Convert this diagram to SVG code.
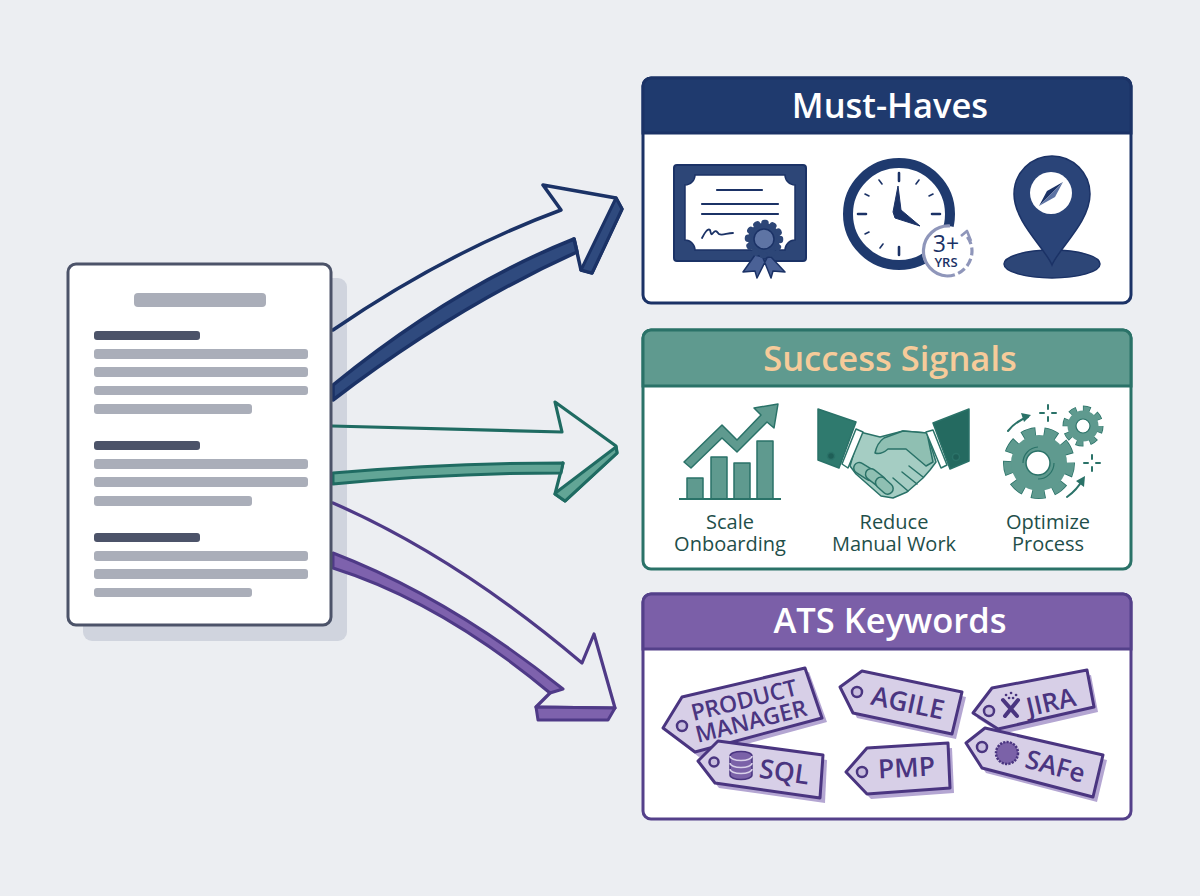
<svg xmlns="http://www.w3.org/2000/svg" width="1200" height="896" viewBox="0 0 1200 896">
<style>
text{font-family:"Open Sans","Noto Sans","Liberation Sans",sans-serif}
.title{font-size:34.5px;font-weight:600;text-anchor:middle;fill:#fff}
.lbl{font-size:20px;text-anchor:middle;fill:#1f4f4a}
.bar{fill:#aaaeb9}
.hd{fill:#4c5369}
.navy{stroke:#1b3266;stroke-linejoin:round;stroke-linecap:round}
.teal{stroke:#1f6b62;stroke-linejoin:round;stroke-linecap:round}
.purp{stroke:#4f3a87;stroke-linejoin:round;stroke-linecap:round}
.tag{fill:#d7cfe7;stroke:#4a3580;stroke-width:3;stroke-linejoin:round}
.tagsh{fill:#b4a6d2}
.hole{fill:#c9bedf;stroke:#4a3580;stroke-width:2.5}
.tt{font-weight:600;text-anchor:middle;fill:#4a3580}
</style>
<rect width="1200" height="896" fill="#ecEEf2"/>
<rect id="doc-shadow" x="83" y="278" width="264" height="363" rx="9" fill="#d0d4de"/>
<g id="connectors" fill="none">
<g id="arrow-musthaves">
<path class="navy" stroke-width="3.5" d="M333 330Q447 252 561 210L543 185L616 198L622 209L592 273L581 270L574 239"/>
<path class="navy" stroke-width="3" fill="#2f4a7e" d="M616 198L622 209L592 273L581 270Z"/>
<path class="navy" stroke-width="3.5" fill="#2f4a7e" d="M333 385Q453 287 574 239L577 252Q455 307 333 400Z"/>
</g>
<g id="arrow-success">
<path class="teal" stroke-width="3.2" d="M332 426L562 432L555 402L616 446L617 453L565 501L555 494L563 463"/>
<path class="teal" stroke-width="3" fill="#62a596" d="M616 447L617 453L565 501L555 494L558 491Z"/>
<path class="teal" stroke-width="3" fill="#62a596" d="M333 473Q450 463 563 463L561 473Q450 473 333 484Z"/>
</g>
<g id="arrow-ats">
<path class="purp" stroke-width="3.2" d="M333 503Q457 557 582 663L594 634L615 708L536 707L550 693"/>
<path class="purp" stroke-width="3" fill="#7e62ad" d="M536 707L615 708L608 720L538 720Z"/>
<path class="purp" stroke-width="3" fill="#7e62ad" d="M333 553Q448 597 563 689L550 693Q441 602 333 568Z"/>
</g>
</g>
<g id="document">
<rect x="68" y="264" width="263" height="361" rx="8" fill="#fff" stroke="#4c5369" stroke-width="3"/>
<rect class="bar" x="134" y="293" width="132" height="14" rx="4"/>
<rect class="hd" x="94" y="331" width="106" height="9" rx="3"/>
<rect class="bar" x="94" y="349" width="214" height="10" rx="3"/>
<rect class="bar" x="94" y="367" width="214" height="10" rx="3"/>
<rect class="bar" x="94" y="386" width="214" height="9" rx="3"/>
<rect class="bar" x="94" y="404" width="158" height="10" rx="3"/>
<rect class="hd" x="94" y="441" width="106" height="9" rx="3"/>
<rect class="bar" x="94" y="459" width="214" height="10" rx="3"/>
<rect class="bar" x="94" y="477" width="214" height="10" rx="3"/>
<rect class="bar" x="94" y="496" width="158" height="10" rx="3"/>
<rect class="hd" x="94" y="533" width="106" height="9" rx="3"/>
<rect class="bar" x="94" y="551" width="214" height="10" rx="3"/>
<rect class="bar" x="94" y="569" width="214" height="10" rx="3"/>
<rect class="bar" x="94" y="588" width="158" height="9" rx="3"/>
</g>
<g id="card-musthaves">
<rect x="643" y="78" width="488" height="225" rx="8" fill="#fff" stroke="#1b3266" stroke-width="3"/>
<path d="M643 133V86a8 8 0 0 1 8-8H1123a8 8 0 0 1 8 8V133Z" fill="#1f3a6e" stroke="#1b3266" stroke-width="3"/>
<text class="title" x="890" y="118">Must-Haves</text>
<g id="icon-certificate">
<rect x="674" y="165" width="132" height="96" rx="3" fill="#2d4677" stroke="#1b3266" stroke-width="2"/>
<path d="M695 175H785a10 10 0 0 0 10 10V240a10 10 0 0 0-10 10H695a10 10 0 0 0-10-10V185a10 10 0 0 0 10-10Z" fill="#fff" stroke="#1b3266" stroke-width="1.5"/>
<path d="M717 190H762M702 204H778M702 214H778" fill="none" stroke="#1b3266" stroke-width="2.2" stroke-linecap="round"/>
<path d="M702 238C705 232 708 228 710 230C711 233 711 236 713 233C716 229 717 232 719 234C722 236 727 233 733 233" fill="none" stroke="#1b3266" stroke-width="1.8" stroke-linecap="round"/>
<path d="M755 255L743 272L755 271L757 278L767 258ZM771 257L785 272L773 271L771 278L763 258Z" fill="#4a6196" stroke="#1b3266" stroke-width="1.5" stroke-linejoin="round"/>
<circle cx="764" cy="239" r="16" fill="#2d4677" stroke="#2d4677" stroke-width="6.5" stroke-dasharray="1 7.38" stroke-linecap="round"/>
<circle cx="764" cy="239" r="10" fill="#5e74a4" stroke="#1b3266" stroke-width="1.5"/>
</g>
<g id="icon-clock">
<circle cx="899" cy="214" r="51" fill="#fff" stroke="#1f3a6e" stroke-width="10"/>
<path d="M899 173V181M899 247V255M858 214H866M932 214H940" stroke="#1b3266" stroke-width="2.6" stroke-linecap="round"/>
<path d="M879 180L882 184M919 180L916 184M865 194L869 196M933 194L929 196M865 234L869 232M880 248L883 244" stroke="#1b3266" stroke-width="1.6" stroke-linecap="round"/>
<path d="M898 186L901 210L920 226L895 218L893 212Z" fill="#1b3266" stroke="#1b3266" stroke-width="1" stroke-linejoin="round"/>
<circle cx="947" cy="251" r="25" fill="#fff"/>
<path d="M950 226A25 25 0 0 0 947 276" fill="none" stroke="#8f96ba" stroke-width="3.2"/>
<path d="M947 276A25 25 0 0 0 972 251A25 25 0 0 0 965 234" fill="none" stroke="#8f96ba" stroke-width="3.2" stroke-dasharray="8 3.5"/>
<path d="M961 236L967 231L971 241" fill="none" stroke="#8f96ba" stroke-width="2.6" stroke-linejoin="round"/>
<text x="946" y="252" font-size="23" font-weight="500" text-anchor="middle" fill="#1b3266">3+</text>
<text x="946" y="267" font-size="13" font-weight="600" text-anchor="middle" fill="#1b3266">YRS</text>
</g>
<g id="icon-pin">
<ellipse cx="1052" cy="264" rx="48" ry="14" fill="#2d4677" stroke="#1b3266" stroke-width="1.5"/>
<path d="M1052 265C1045 248 1014 222 1014 194A38 38 0 0 1 1090 194C1090 222 1059 248 1052 265Z" fill="#2a4478" stroke="#1b3266" stroke-width="1.5"/>
<circle cx="1051" cy="193" r="21" fill="#fff"/>
<path d="M1063 182L1039 206L1047 191Z" fill="#1b3266"/>
<path d="M1063 182L1039 206L1055 197Z" fill="#5e74a4"/>
</g>
</g>
<g id="card-success">
<rect x="643" y="330" width="488" height="239" rx="8" fill="#fff" stroke="#2a7268" stroke-width="3"/>
<path d="M643 386V338a8 8 0 0 1 8-8H1123a8 8 0 0 1 8 8V386Z" fill="#5f9a8f" stroke="#2a7268" stroke-width="3"/>
<text class="title" x="890" y="371" style="fill:#f6cb9a">Success Signals</text>
<g id="icon-chart" fill="#5f9a8f" stroke="#2a7268" stroke-width="1.5" stroke-linejoin="round">
<rect x="687" y="478" width="16" height="21"/>
<rect x="711" y="457" width="16" height="42"/>
<rect x="734" y="463" width="16" height="36"/>
<rect x="757" y="441" width="16" height="58"/>
<path d="M679 499H781" stroke-width="2"/>
<path d="M684 462L722 425L737 440L761 415L754 408L778 404L774 428L767 422L737 452L722 438L691 468Z"/>
</g>
<g id="icon-handshake" stroke="#2a7268" stroke-width="1.5" stroke-linejoin="round" stroke-linecap="round">
<path d="M860 432L880 437L903 431L927 433L936 462L930 470L923 478L907 492L893 498L881 496L856 474L850 466Z" fill="#a5cdc3"/>
<path d="M875 453Q877 443 884 438L903 431L927 433L933 462L926 466L906 449L888 449Q881 455 875 453Z" fill="#8fbfb2"/>
<rect x="853" y="466" width="24" height="11" rx="5.5" fill="#8fbfb2" transform="rotate(32 865 471)"/>
<rect x="864" y="472" width="23" height="11" rx="5.5" fill="#8fbfb2" transform="rotate(38 875 478)"/>
<rect x="874" y="480" width="20" height="11" rx="5.5" fill="#8fbfb2" transform="rotate(42 884 486)"/>
<path d="M893 478L908 491M902 472L917 484M909 466L923 477" fill="none"/>
<path d="M818 409L856 422L839 468L818 460Z" fill="#2f7a6e"/>
<path d="M969 409L933 423L950 469L969 461Z" fill="#246a60"/>
<path d="M856 429L863 432L848 468L842 464Z" fill="#fff"/>
<path d="M926 432L933 430L947 465L941 468Z" fill="#fff"/>
<circle cx="831" cy="456" r="3.5" fill="#1f5f57"/>
<circle cx="956" cy="457" r="3.5" fill="#1f5f57"/>
</g>
<g id="icon-gears">
<circle cx="1039" cy="463" r="31" fill="none" stroke="#2a7268" stroke-width="10" stroke-dasharray="13.5 8.14" stroke-dashoffset=".75"/>
<circle cx="1039" cy="463" r="31" fill="none" stroke="#5f9a8f" stroke-width="8.5" stroke-dasharray="12 9.64"/>
<circle cx="1039" cy="463" r="28" fill="#5f9a8f"/>
<circle cx="1038" cy="463" r="12" fill="#fff" stroke="#2a7268" stroke-width="1.5"/>
<path d="M1023 463A16 16 0 0 1 1038 447M1054 463A16 16 0 0 1 1038 479" fill="none" stroke="#2a7268" stroke-width="1.2"/>
<circle cx="1083" cy="426" r="17" fill="none" stroke="#2a7268" stroke-width="7" stroke-dasharray="7.2 6.15" stroke-dashoffset=".6"/>
<circle cx="1083" cy="426" r="17" fill="none" stroke="#5f9a8f" stroke-width="5.5" stroke-dasharray="6 7.35"/>
<circle cx="1083" cy="426" r="15.5" fill="#5f9a8f"/>
<circle cx="1083" cy="426" r="7" fill="#fff" stroke="#2a7268" stroke-width="1.2"/>
<path d="M1008 431Q1017 420 1028 417M1067 497Q1077 490 1083 479M1040 413H1044M1052 413H1056M1048 405V409M1048 417V421M1084 463H1088M1096 463H1100M1092 455V459M1092 467V471" fill="none" stroke="#2a7268" stroke-width="2" stroke-linecap="round"/>
<path d="M1031 415L1021 413L1024 422ZM1085 476L1076 481L1084 487Z" fill="#2a7268"/>
</g>
<text class="lbl" x="730" y="529">Scale</text>
<text class="lbl" x="730" y="551">Onboarding</text>
<text class="lbl" x="894" y="529">Reduce</text>
<text class="lbl" x="894" y="551">Manual Work</text>
<text class="lbl" x="1048" y="529">Optimize</text>
<text class="lbl" x="1048" y="551">Process</text>
</g>
<g id="card-ats">
<rect x="643" y="594" width="488" height="225" rx="8" fill="#fff" stroke="#54408a" stroke-width="3"/>
<path d="M643 649V602a8 8 0 0 1 8-8H1123a8 8 0 0 1 8 8V649Z" fill="#7b5fa8" stroke="#54408a" stroke-width="3"/>
<text class="title" x="890" y="633">ATS Keywords</text>
</g>
<g id="tag-product-manager">
<polygon class="tagsh" points="667,732 686,701 809,672 827,722 699,757"/>
<polygon class="tag" points="663,728 682,697 805,668 822,718 695,752"/>
<circle class="hole" cx="682" cy="726" r="5"/>
<text class="tt" font-size="23" transform="translate(746,708) rotate(-14)">PRODUCT</text>
<text class="tt" font-size="23" transform="translate(753,729) rotate(-14)">MANAGER</text>
</g>
<g id="tag-sql">
<polygon class="tagsh" points="702,766 722,746 827,760 825,803 719,788"/>
<polygon class="tag" points="698,761 718,741 823,755 820,798 715,783"/>
<circle class="hole" cx="714" cy="762" r="4.5"/>
<path d="M730 756a11 4.5 0 0 1 22 0V775a11 4.5 0 0 1-22 0Z" fill="#7b62a8" stroke="#4a3580" stroke-width="1.5"/>
<path d="M730 756a11 4.5 0 0 0 22 0M730 763a11 4.5 0 0 0 22 0M730 769a11 4.5 0 0 0 22 0" fill="none" stroke="#d9d1e9" stroke-width="1.5"/>
<text class="tt" font-size="26.5" transform="translate(783,781) rotate(8)">SQL</text>
</g>
<g id="tag-agile">
<polygon class="tagsh" points="844,692 866,676 966,697 956,739 857,718"/>
<polygon class="tag" points="840,687 862,671 962,692 952,734 853,713"/>
<circle class="hole" cx="857" cy="692" r="5"/>
<text class="tt" font-size="26.5" transform="translate(906,712) rotate(12)">AGILE</text>
</g>
<g id="tag-pmp">
<polygon class="tagsh" points="850,777 871,753 952,748 954,793 871,799"/>
<polygon class="tag" points="846,772 867,748 948,743 950,788 867,794"/>
<circle class="hole" cx="862" cy="772" r="5"/>
<text class="tt" font-size="26.5" transform="translate(907,777) rotate(-3)">PMP</text>
</g>
<g id="tag-jira">
<polygon class="tagsh" points="977,718 996,693 1091,675 1098,712 1002,734"/>
<polygon class="tag" points="973,713 992,688 1087,670 1094,707 998,729"/>
<circle class="hole" cx="989" cy="711" r="5"/>
<path d="M1003 700L1017 716M1018 700L1005 716" stroke="#4a3580" stroke-width="4" stroke-linecap="round"/>
<path d="M1006 695h.1M1011 693h.1M1016 695h.1M1009 698h.1M1013 698h.1" stroke="#4a3580" stroke-width="2.6" stroke-linecap="round"/>
<text class="tt" font-size="26" transform="translate(1053,711) rotate(-13)">JIRA</text>
</g>
<g id="tag-safe">
<polygon class="tagsh" points="970,748 989,733 1107,760 1097,802 986,773"/>
<polygon class="tag" points="966,743 985,728 1103,755 1093,797 982,768"/>
<circle class="hole" cx="982" cy="747" r="5"/>
<circle cx="1007" cy="753" r="11" fill="#7b62a8" stroke="#4a3580" stroke-width="2.5" stroke-dasharray="2.2 1.2"/>
<text class="tt" font-size="26" transform="translate(1053,775) rotate(15)">SAFe</text>
</g>
</svg>
